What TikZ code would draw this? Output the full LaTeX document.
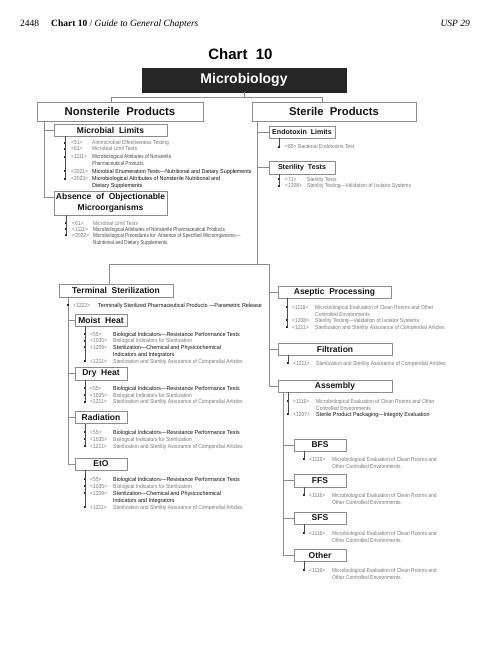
\documentclass[tikz,border=0pt]{standalone}
\usepackage{fontspec}
\setmainfont{Liberation Serif}
\setsansfont{Liberation Sans}
\newfontfamily\lightf[FakeStretch=0.86]{Liberation Sans}
\newfontfamily\midf[FakeStretch=0.80]{Liberation Sans}
\newfontfamily\darkf[FakeStretch=0.93]{Liberation Sans}
\usetikzlibrary{calc}
\definecolor{linegray}{HTML}{8C8C8C}
\definecolor{txtgray}{HTML}{7A7A7A}
\definecolor{txtmid}{HTML}{4A4A4A}
\definecolor{txtdark}{HTML}{151515}
\definecolor{boxdark}{HTML}{262626}
\tikzset{
 box/.style={draw=linegray, line width=0.7pt, fill=white, inner sep=0pt, text=txtdark,
   font=\sffamily\bfseries\fontsize{8.5}{10.5}\selectfont},
 bigbox/.style={box, font=\sffamily\bfseries\fontsize{11.3}{12}\selectfont},
 smallbox/.style={box, font=\sffamily\bfseries\fontsize{7.1}{8}\selectfont},
 conn/.style={draw=linegray, line width=0.6pt},
 bline/.style={draw=black!70, line width=0.5pt},
 bul/.style={rectangle, fill=black!85, inner sep=0pt, minimum size=2pt},
 codetxt/.style={anchor=base west, inner sep=0pt, text=txtgray, font=\lightf\fontsize{5.8}{7}\selectfont},
 lt/.style={anchor=base west, inner sep=0pt, text=txtgray, font=\lightf\fontsize{5.8}{7}\selectfont},
 md/.style={anchor=base west, inner sep=0pt, text=txtmid, font=\midf\fontsize{5.8}{7}\selectfont},
 dk/.style={anchor=base west, inner sep=0pt, text=txtdark, font=\darkf\fontsize{5.8}{7}\selectfont},
}
\newcommand\two[2]{\vtop{\hbox{#1}\hbox{#2}}}
\newcommand\entry[5]{%
 \node[bul] (#1b) at (\bulx,#2) {};
 \node[codetxt] (#1c) at (\codex,#2+2) {#3};
 \node[#4] (#1d) at (\descx,#2+2) {#5};
}
\begin{document}
\begin{tikzpicture}[x=1pt,y=-1pt]
\fill[white] (0,0) rectangle (500,647);
\useasboundingbox (0,0) rectangle (500,647);

% header
\node[anchor=base west, inner sep=0pt, font=\rmfamily\fontsize{9.5}{11}\selectfont] (pg) at (20,27) {2448};
\node[anchor=base west, inner sep=0pt, font=\rmfamily\fontsize{9.5}{11}\selectfont] (hdr) at (51,27) {\textbf{Chart 10} / \textit{Guide to General Chapters}};
\node[anchor=base east, inner sep=0pt, font=\rmfamily\itshape\fontsize{9.5}{11}\selectfont] (usp) at (470,27) {USP 29};

% title
\node[anchor=base, inner sep=0pt, font=\sffamily\bfseries\fontsize{15}{18}\selectfont] (ct) at (240.5,60) {Chart~~10};
\node[box, fill=boxdark, draw=boxdark, text=white, minimum width=204pt, minimum height=24pt,
  font=\sffamily\bfseries\fontsize{14}{16}\selectfont] (micro) at (244,80) {Microbiology};

% main boxes
\node[bigbox, minimum width=166pt, minimum height=19pt] (nonst) at (120,111.5) {Nonsterile~~Products};
\node[bigbox, minimum width=164pt, minimum height=19pt] (steril) at (334,111.5) {Sterile~~Products};

\node[box, minimum width=113pt, minimum height=12pt] (ml) at (110.5,130) {Microbial~~Limits};
\node[box, minimum width=113pt, minimum height=24pt, align=center] (abs) at (110.5,203) {Absence~~of~~Objectionable\\Microorganisms};
\node[smallbox, minimum width=66pt, minimum height=12pt] (endo) at (302,132) {Endotoxin~~Limits};
\node[smallbox, minimum width=66pt, minimum height=13pt] (sterT) at (302,167.5) {Sterility~~Tests};

\node[box, minimum width=114pt, minimum height=13pt] (term) at (116,290.5) {Terminal~~Sterilization};
\node[box, minimum width=52pt, minimum height=12pt] (moist) at (101,320) {Moist~~Heat};
\node[box, minimum width=52pt, minimum height=13pt] (dry) at (101,373.5) {Dry~~Heat};
\node[box, minimum width=52pt, minimum height=12pt] (rad) at (101,417.5) {Radiation};
\node[box, minimum width=52pt, minimum height=12pt] (eto) at (101,464) {EtO};

\node[box, minimum width=113pt, minimum height=12pt] (asep) at (334.5,292) {Aseptic~~Processing};
\node[box, minimum width=114pt, minimum height=12pt] (filt) at (335,349) {Filtration};
\node[box, minimum width=114pt, minimum height=12pt] (assem) at (335,386) {Assembly};
\node[box, minimum width=52pt, minimum height=12pt] (bfs) at (320,445) {BFS};
\node[box, minimum width=52pt, minimum height=13pt] (ffs) at (320,480.5) {FFS};
\node[box, minimum width=52pt, minimum height=12pt] (sfs) at (320,518) {SFS};
\node[box, minimum width=52pt, minimum height=12pt] (other) at (320,555) {Other};

% connectors
\coordinate (j0) at (244,97);
\coordinate (j1) at (111,97);
\coordinate (j2) at (322,97);
\draw[conn] (micro.south) -- (j0);
\draw[conn] (nonst.north -| j1) -- (j1) -- (j2) -- (steril.north -| j2);

\coordinate (nsA) at (44,197);
\draw[conn] (nonst.south -| nsA) -- (nsA) -- (nsA -| abs.west);
\draw[conn] (ml.west) -- (ml.west -| nsA);

\coordinate (sT) at (257,264);
\coordinate (sL) at (109,264);
\coordinate (sR) at (269,264);
\draw[conn] (steril.south -| sT) -- (sT);
\draw[conn] (endo.west) -- (endo.west -| sT);
\draw[conn] (sterT.west) -- (sterT.west -| sT);
\draw[conn] (term.north -| sL) -- (sL) -- (sR) -- (sR |- assem.west) -- (assem.west);
\draw[conn] (asep.west -| sR) -- (asep.west);
\draw[conn] (filt.west -| sR) -- (filt.west);

\coordinate (tT) at (68,297);
\draw[conn] (term.south -| tT) -- (tT |- eto.west) -- (eto.west);
\draw[conn] (moist.west -| tT) -- (moist.west);
\draw[conn] (dry.west -| tT) -- (dry.west);
\draw[conn] (rad.west -| tT) -- (rad.west);

\coordinate (aT) at (283,392);
\draw[conn] (assem.south -| aT) -- (aT |- other.west) -- (other.west);
\draw[conn] (bfs.west -| aT) -- (bfs.west);
\draw[conn] (ffs.west -| aT) -- (ffs.west);
\draw[conn] (sfs.west -| aT) -- (sfs.west);

% ---- entries ----
\def\bulx{65}\def\codex{71}\def\descx{92}
\entry{ml1}{143}{<51>}{lt}{Antimicrobial Effectiveness Testing}
\entry{ml2}{149}{<61>}{lt}{Microbial Limit Tests}
\entry{ml3}{157}{<1111>}{md}{\two{Microbiological Attributes of Nonsterile}{Pharmaceutical Products}}
\entry{ml4}{171}{<2021>}{dk}{Microbial Enumeration Tests—Nutritional and Dietary Supplements}
\entry{ml5}{178.5}{<2023>}{dk}{\two{Microbiological Attributes of Nonsterile Nutritional and}{Dietary Supplements}}
\draw[bline] (ml.south -| ml1b) -- (ml5b.center);

\def\bulx{66}\def\codex{72}\def\descx{93}
\entry{ab1}{223}{<61>}{lt}{Microbial Limit Tests}
\entry{ab2}{229}{<1111>}{md}{Microbiological Attributes of Nonsterile Pharmaceutical Products}
\entry{ab3}{235}{<2022>}{md}{\two{Microbiological Procedures for\ \ Absence of Specified Microorganisms—}{Nutritional and Dietary Supplements}}
\draw[bline] (abs.south -| ab1b) -- (ab3b.center);

\def\bulx{279}\def\codex{285}\def\descx{298}
\entry{en1}{147}{<85>}{lt}{Bacterial Endotoxins Test}
\draw[bline] (endo.south -| en1b) -- (en1b.center);

\def\bulx{279}\def\codex{285}\def\descx{307}
\entry{st1}{179}{<71>}{lt}{Sterility Tests}
\entry{st2}{185.5}{<1208>}{lt}{Sterility Testing—Validation of Isolator Systems}
\draw[bline] (sterT.south -| st1b) -- (st2b.center);

\def\bulx{68}\def\codex{73}\def\descx{98}
\entry{tm1}{305}{<1222>}{dk}{Terminally Sterilized Pharmaceutical Products —Parametric Release}

\def\bulx{85}\def\codex{90}\def\descx{113}
\entry{mh1}{334}{<55>}{dk}{Biological Indicators—Resistance Performance Tests}
\entry{mh2}{340.5}{<1035>}{lt}{Biological Indicators for Sterilization}
\entry{mh3}{347}{<1209>}{dk}{\two{Sterilization—Chemical and Physicochemical}{Indicators and Integrators}}
\entry{mh4}{361}{<1211>}{lt}{Sterilization and Sterility Assurance of Compendial Articles}
\draw[bline] (moist.south -| mh1b) -- (mh4b.center);

\entry{dh1}{388}{<55>}{dk}{Biological Indicators—Resistance Performance Tests}
\entry{dh2}{395}{<1035>}{lt}{Biological Indicators for Sterilization}
\entry{dh3}{401.5}{<1211>}{lt}{Sterilization and Sterility Assurance of Compendial Articles}
\draw[bline] (dry.south -| dh1b) -- (dh3b.center);

\entry{rd1}{432}{<55>}{dk}{Biological Indicators—Resistance Performance Tests}
\entry{rd2}{439}{<1035>}{lt}{Biological Indicators for Sterilization}
\entry{rd3}{446}{<1211>}{lt}{Sterilization and Sterility Assurance of Compendial Articles}
\draw[bline] (rad.south -| rd1b) -- (rd3b.center);

\entry{et1}{479}{<55>}{dk}{Biological Indicators—Resistance Performance Tests}
\entry{et2}{486}{<1035>}{lt}{Biological Indicators for Sterilization}
\entry{et3}{493}{<1209>}{dk}{\two{Sterilization—Chemical and Physicochemical}{Indicators and Integrators}}
\entry{et4}{507}{<1211>}{lt}{Sterilization and Sterility Assurance of Compendial Articles}
\draw[bline] (eto.south -| et1b) -- (et4b.center);

\def\bulx{287}\def\codex{292}\def\descx{315}
\entry{as1}{307}{<1116>}{lt}{\two{Microbiological Evaluation of Clean Rooms and Other}{Controlled Environments}}
\entry{as2}{320}{<1208>}{lt}{Sterility Testing—Validation of Isolator Systems}
\entry{as3}{327}{<1211>}{lt}{Sterilization and Sterility Assurance of Compendial Articles}
\draw[bline] (asep.south -| as1b) -- (as3b.center);

\def\bulx{288}\def\codex{293}\def\descx{316}
\entry{fl1}{363}{<1211>}{lt}{Sterilization and Sterility Assurance of Compendial Articles}
\draw[bline] (filt.south -| fl1b) -- (fl1b.center);

\entry{am1}{401}{<1116>}{lt}{\two{Microbiological Evaluation of Clean Rooms and Other}{Controlled Environments}}
\entry{am2}{414}{<1207>}{dk}{Sterile Product Packaging—Integrity Evaluation}
\draw[bline] (assem.south -| am1b) -- (am2b.center);

\def\bulx{304}\def\codex{309}\def\descx{332}
\entry{bf1}{459}{<1116>}{lt}{\two{Microbiological Evaluation of Clean Rooms and}{Other Controlled Environments.}}
\draw[bline] (bfs.south -| bf1b) -- (bf1b.center);
\entry{ff1}{495}{<1116>}{lt}{\two{Microbiological Evaluation of Clean Rooms and}{Other Controlled Environments.}}
\draw[bline] (ffs.south -| ff1b) -- (ff1b.center);
\entry{sf1}{533}{<1116>}{lt}{\two{Microbiological Evaluation of Clean Rooms and}{Other Controlled Environments.}}
\draw[bline] (sfs.south -| sf1b) -- (sf1b.center);
\entry{ot1}{570}{<1116>}{lt}{\two{Microbiological Evaluation of Clean Rooms and}{Other Controlled Environments.}}
\draw[bline] (other.south -| ot1b) -- (ot1b.center);
\end{tikzpicture}
\end{document}
